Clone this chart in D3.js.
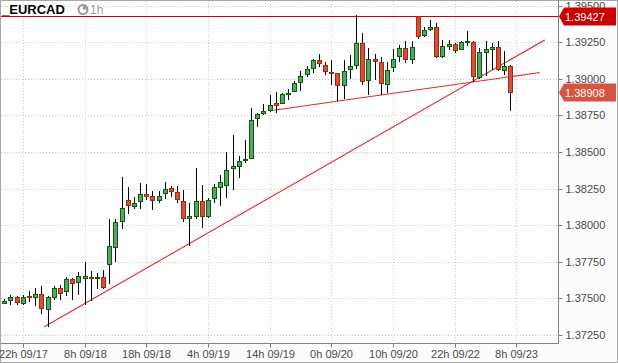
<!DOCTYPE html>
<html>
<head>
<meta charset="utf-8">
<script src="https://cdn.jsdelivr.net/npm/d3@7"></script>
<style>
    body { margin: 0; background: #fff; }
    #chart { width: 618px; height: 363px; }
    text { font-family: "Liberation Sans", Arial, sans-serif; }
</style>
</head>
<body>
<div id="chart"></div>
<script>
/* global d3 */

// hourly EURCAD candles, 19h 09/17 .. 7h 09/23
var open = [
    1.37471, 1.37489, 1.37507, 1.37471, 1.37518, 1.37507, 1.37528, 1.37430, 1.37512, 1.37571,
    1.37548, 1.37630, 1.37610, 1.37641, 1.37646, 1.37637, 1.37646, 1.37733, 1.37849, 1.38027,
    1.38170, 1.38129, 1.38163, 1.38213, 1.38201, 1.38174, 1.38218, 1.38252, 1.38225, 1.38163,
    1.38051, 1.38065, 1.38163, 1.38065, 1.38184, 1.38263, 1.38272, 1.38389, 1.38402, 1.38443,
    1.38461, 1.38730, 1.38768, 1.38789, 1.38835, 1.38837, 1.38894, 1.38914, 1.38976, 1.39031,
    1.39072, 1.39126, 1.39092, 1.39046, 1.39037, 1.38956, 1.39065, 1.39092, 1.39244, 1.38990,
    1.39133, 1.39113, 1.38962, 1.39078, 1.39156, 1.39208, 1.39133, 1.39427, 1.39297, 1.39342,
    1.39354, 1.39154, 1.39226, 1.39238, 1.39201, 1.39249, 1.39251, 1.39012, 1.39185, 1.39205,
    1.39215, 1.39058, 1.39085];
var high = [
    1.37494, 1.37521, 1.37518, 1.37521, 1.37548, 1.37571, 1.37587, 1.37518, 1.37587, 1.37592,
    1.37646, 1.37641, 1.37682, 1.37747, 1.37689, 1.37676, 1.37694, 1.38040, 1.38040, 1.38327,
    1.38259, 1.38195, 1.38286, 1.38281, 1.38231, 1.38231, 1.38293, 1.38268, 1.38270, 1.38240,
    1.38154, 1.38393, 1.38277, 1.38186, 1.38281, 1.38343, 1.38502, 1.38616, 1.38473, 1.38582,
    1.38800, 1.38768, 1.38828, 1.38889, 1.38910, 1.38903, 1.38930, 1.38987, 1.39053, 1.39087,
    1.39135, 1.39169, 1.39117, 1.39128, 1.39042, 1.39128, 1.39160, 1.39434, 1.39313, 1.39210,
    1.39171, 1.39149, 1.39113, 1.39201, 1.39229, 1.39256, 1.39256, 1.39427, 1.39354, 1.39404,
    1.39381, 1.39263, 1.39265, 1.39244, 1.39256, 1.39324, 1.39256, 1.39210, 1.39260, 1.39244,
    1.39256, 1.39192, 1.39096];
var low = [
    1.37460, 1.37453, 1.37457, 1.37455, 1.37477, 1.37450, 1.37395, 1.37307, 1.37489, 1.37489,
    1.37518, 1.37489, 1.37523, 1.37455, 1.37484, 1.37562, 1.37562, 1.37598, 1.37751, 1.37976,
    1.38078, 1.38109, 1.38113, 1.38172, 1.38104, 1.38154, 1.38181, 1.38190, 1.38150, 1.38024,
    1.37858, 1.38040, 1.37983, 1.38051, 1.38154, 1.38133, 1.38188, 1.38242, 1.38324, 1.38423,
    1.38454, 1.38673, 1.38755, 1.38775, 1.38764, 1.38828, 1.38857, 1.38910, 1.38919, 1.39014,
    1.39042, 1.39083, 1.39026, 1.38958, 1.38848, 1.38862, 1.38999, 1.39069, 1.38956, 1.38891,
    1.38994, 1.38891, 1.38903, 1.39048, 1.39115, 1.39106, 1.39103, 1.39274, 1.39283, 1.39324,
    1.39142, 1.39142, 1.39197, 1.39176, 1.39195, 1.39222, 1.38978, 1.39001, 1.39021, 1.39058,
    1.39055, 1.39028, 1.38778];
var close = [
    1.37482, 1.37507, 1.37473, 1.37510, 1.37507, 1.37528, 1.37436, 1.37510, 1.37571, 1.37539,
    1.37630, 1.37603, 1.37651, 1.37653, 1.37637, 1.37646, 1.37576, 1.37856, 1.38022, 1.38115,
    1.38136, 1.38150, 1.38211, 1.38201, 1.38174, 1.38197, 1.38245, 1.38231, 1.38177, 1.38047,
    1.38063, 1.38163, 1.38065, 1.38170, 1.38259, 1.38293, 1.38377, 1.38404, 1.38436, 1.38452,
    1.38718, 1.38759, 1.38780, 1.38821, 1.38823, 1.38894, 1.38903, 1.38969, 1.39017, 1.39065,
    1.39126, 1.39106, 1.39051, 1.39037, 1.38956, 1.39050, 1.39085, 1.39244, 1.38983, 1.39133,
    1.39119, 1.38969, 1.39060, 1.39137, 1.39208, 1.39137, 1.39217, 1.39294, 1.39333, 1.39354,
    1.39154, 1.39222, 1.39238, 1.39199, 1.39249, 1.39260, 1.39017, 1.39181, 1.39201, 1.39215,
    1.39069, 1.39089, 1.38908];

var xTickIndex = [3, 13, 23, 33, 43, 53, 63, 73, 83];
var xTickLabels = ["22h 09/17", "8h 09/18", "18h 09/18", "4h 09/19", "14h 09/19",
                   "0h 09/20", "10h 09/20", "22h 09/22", "8h 09/23"];
var yTicks = [1.3725, 1.375, 1.3775, 1.38, 1.3825, 1.385, 1.3875, 1.39, 1.3925, 1.395];

// drawn lines: [index, price] start and end
var trendLines = [
    [[6.48, 1.37307], [87.6, 1.39265]],
    [[43.6, 1.38785], [86.8, 1.39042]]
];
var resistance = 1.39427;
var lastPrice = 1.38908;

var Chart = Chart || {};
Chart.candles = function () {
    "use strict";

    const width = 618,
          height = 363,
          plotW = 558,
          plotH = 343,
          green = "rgb(92,160,112)", greenLine = "rgb(0,100,0)",
          red = "rgb(214,80,58)", redLine = "rgb(165,40,20)";
    var that = {}, svg, x, y;

    function init() {
        createSvg();
        createScales();
        drawGrid();
        drawLines();
        drawCandles();
        drawAxes();
        drawPriceTags();
        drawTitle();
    }

    function createSvg() {
        svg = d3.select('#chart')
            .append('svg')
            .attr('width', width)
            .attr('height', height);
        svg.append('rect')
            .attr('x', 0.5).attr('y', 0.5)
            .attr('width', width - 1).attr('height', height - 1)
            .attr('fill', '#fcfcfc')
            .attr('stroke', '#a8a8a8');
        svg.append('rect')
            .attr('x', 1).attr('y', 1)
            .attr('width', plotW - 1).attr('height', plotH - 1)
            .attr('fill', '#fff');
    }

    function createScales() {
        x = d3.scaleLinear().domain([-0.7, 89.74]).range([0, plotW]);
        y = d3.scaleLinear().domain([1.371954, 1.395376]).range([plotH, 0]);
    }

    function px(v) {
        return Math.round(v) + 0.5;
    }

    function drawGrid() {
        var grid = svg.append('g').classed('grid', true);
        grid.selectAll('.hgrid')
            .data(yTicks)
            .enter().append('line')
            .attr('x1', 1).attr('x2', plotW)
            .attr('y1', function (d) { return px(y(d)); })
            .attr('y2', function (d) { return px(y(d)); })
            .attr('stroke', '#c8c8c8')
            .attr('stroke-dasharray', '1,2');
        grid.selectAll('.vgrid')
            .data(xTickIndex)
            .enter().append('line')
            .attr('y1', 1).attr('y2', plotH)
            .attr('x1', function (d) { return px(x(d)); })
            .attr('x2', function (d) { return px(x(d)); })
            .attr('stroke', '#c8d4c8')
            .attr('stroke-dasharray', '1,2');
    }

    function drawLines() {
        svg.append('line')
            .attr('x1', 1).attr('x2', plotW)
            .attr('y1', px(y(resistance))).attr('y2', px(y(resistance)))
            .attr('stroke', '#cc0000')
            .attr('stroke-width', 1);
        svg.append('g').selectAll('line')
            .data(trendLines)
            .enter().append('line')
            .attr('x1', function (d) { return x(d[0][0]); })
            .attr('y1', function (d) { return y(d[0][1]); })
            .attr('x2', function (d) { return x(d[1][0]); })
            .attr('y2', function (d) { return y(d[1][1]); })
            .attr('stroke', 'rgb(228,40,48)')
            .attr('stroke-width', 1.1);
    }

    function drawCandles() {
        var data = open.map(function (o, i) {
            return {i: i, o: o, h: high[i], l: low[i], c: close[i]};
        });
        var g = svg.append('g').classed('candles', true)
            .selectAll('g')
            .data(data)
            .enter().append('g');
        g.append('line')
            .attr('x1', function (d) { return px(x(d.i)); })
            .attr('x2', function (d) { return px(x(d.i)); })
            .attr('y1', function (d) { return Math.round(y(d.h)); })
            .attr('y2', function (d) { return Math.round(y(d.l)); })
            .attr('stroke', '#000');
        g.append('rect')
            .attr('x', function (d) { return Math.round(x(d.i)) - 2 + 0.5; })
            .attr('width', 4)
            .attr('y', function (d) { return Math.round(y(Math.max(d.o, d.c))) + 0.5; })
            .attr('height', function (d) {
                return Math.max(1, Math.round(y(Math.min(d.o, d.c))) - Math.round(y(Math.max(d.o, d.c))));
            })
            .attr('fill', function (d) { return d.c >= d.o ? green : red; })
            .attr('stroke', function (d) { return d.c >= d.o ? greenLine : redLine; });
    }

    function drawAxes() {
        var yAxis = d3.axisRight(y)
            .tickValues(yTicks)
            .tickFormat(d3.format('.5f'))
            .tickSize(4)
            .tickSizeOuter(0)
            .tickPadding(3);
        var ya = svg.append('g')
            .attr('transform', 'translate(' + (plotW + 0.5) + ',0)')
            .call(yAxis);
        ya.select('.domain').attr('d', 'M0,0V' + (plotH + 0.5));

        var xAxis = d3.axisBottom(x)
            .tickValues(xTickIndex)
            .tickFormat(function (d, i) { return xTickLabels[i]; })
            .tickSize(4)
            .tickSizeOuter(0)
            .tickPadding(3);
        var xa = svg.append('g')
            .attr('transform', 'translate(0,' + (plotH + 0.5) + ')')
            .call(xAxis);
        xa.select('.domain').attr('d', 'M1,0H' + (plotW + 0.5));
        xa.selectAll('.tick').attr('transform', function (d) {
            return 'translate(' + px(x(d)) + ',0)';
        });

        [ya, xa].forEach(function (a) {
            a.select('.domain').attr('stroke', '#808080');
            a.selectAll('.tick line').attr('stroke', '#808080');
            a.selectAll('.tick text')
                .style('font-family', '"Liberation Sans", Arial, sans-serif')
                .style('font-size', '11px')
                .attr('fill', '#4a4a4a');
        });
        ya.selectAll('.tick').attr('transform', function (d) {
            return 'translate(0,' + px(y(d)) + ')';
        });
    }

    function drawPriceTags() {
        var tags = [{v: resistance, color: '#cc0000'}, {v: lastPrice, color: 'rgb(216,84,64)'}];
        var g = svg.append('g').selectAll('g')
            .data(tags)
            .enter().append('g')
            .attr('transform', function (d) {
                return 'translate(' + (plotW + 1) + ',' + Math.round(y(d.v)) + ')';
            });
        g.append('path')
            .attr('d', 'M0,0.5L5,-8.5H57V9.5H5Z')
            .attr('fill', function (d) { return d.color; });
        g.append('text')
            .attr('x', 6)
            .attr('y', 1)
            .attr('dy', '0.35em')
            .style('font-size', '11px')
            .attr('fill', '#fff')
            .text(function (d) { return d3.format('.5f')(d.v); });
    }

    function drawTitle() {
        var t = svg.append('g').classed('title', true);
        t.append('text')
            .attr('x', 2)
            .attr('y', 14)
            .style('font-size', '13px')
            .style('font-weight', 'bold')
            .attr('fill', '#000')
            .text('_EURCAD');
        t.append('circle')
            .attr('cx', 83).attr('cy', 9.5).attr('r', 4.5)
            .attr('fill', '#fff')
            .attr('stroke', '#9a9a9a')
            .attr('stroke-width', 2);
        t.append('path')
            .attr('d', 'M83,9.5V5A4.5,4.5 0 0 1 87.5,9.5Z')
            .attr('fill', '#9a9a9a');
        t.append('text')
            .attr('x', 90)
            .attr('y', 14)
            .style('font-size', '12px')
            .attr('fill', '#a0a0a0')
            .text('1h');
    }

    that.init = init;
    return that;
};

Chart.candles().init();
</script>
</body>
</html>
